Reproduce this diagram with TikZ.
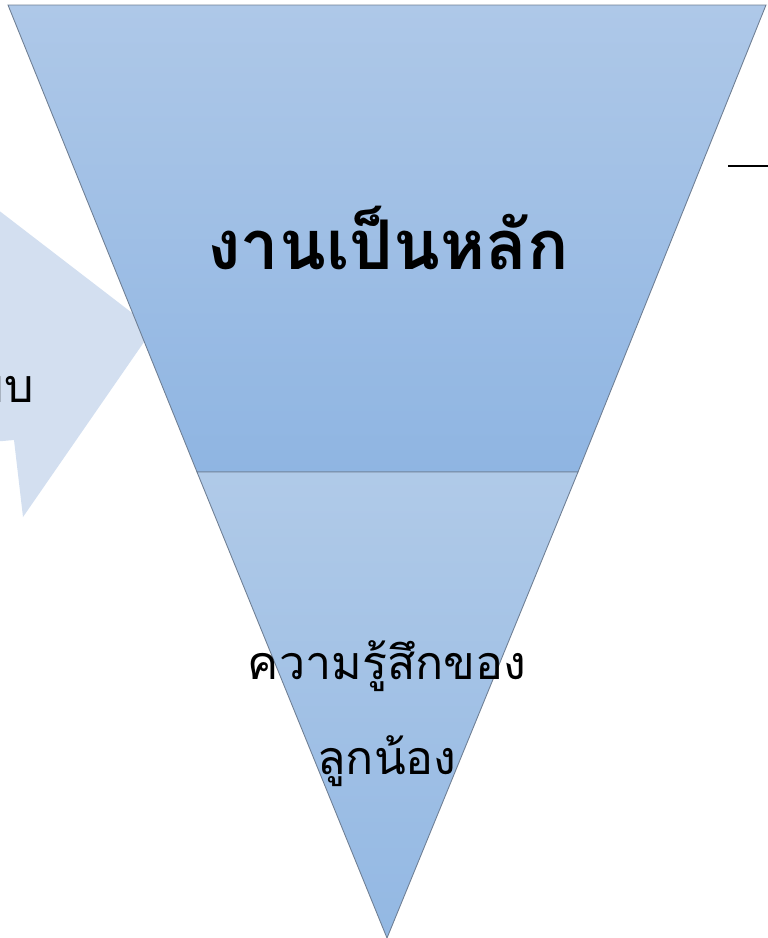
\documentclass[tikz,border=0pt]{standalone}
\usepackage{fontspec}
\newfontfamily\thaifont[Script=Thai]{Loma}
\usetikzlibrary{positioning}
\definecolor{edgegray}{HTML}{6F7F94}
\definecolor{toplight}{HTML}{AEC8E8}
\definecolor{topdark}{HTML}{8FB5E2}
\definecolor{lowlight}{HTML}{B0CAE8}
\definecolor{lowdark}{HTML}{93B8E3}
\definecolor{arrowblue}{HTML}{D3DFF0}
\tikzset{
  layer/.style={draw=edgegray, line width=0.5pt},
  thaibig/.style={font=\thaifont\bfseries\fontsize{39}{46}\selectfont},
  thaitext/.style={font=\thaifont\fontsize{26.5}{54}\selectfont, align=center},
}
\begin{document}
\begin{tikzpicture}[x=0.02cm,y=-0.02cm]
\useasboundingbox (0,0) rectangle (768,938);
\clip (0,0) rectangle (768,938);
% arrow coming in from the left
\fill[arrowblue] (-20,196) -- (153,329) -- (23,517) -- (14,440) -- (-20,443) -- cycle;
\node[thaitext, anchor=east] (leftword) at (40,390) {ระบบ};
% top layer
\shade[layer, top color=toplight, bottom color=topdark]
  (8,5) -- (766,5) -- (578,472) -- (197,472) -- cycle;
% bottom layer
\shade[layer, top color=lowlight, bottom color=lowdark]
  (197,472) -- (578,472) -- (387,938) -- cycle;
\node[thaibig] (work) at (388,238) {งานเป็นหลัก};
\node[thaitext] (feel) at (387,714) {ความรู้สึกของ\\ลูกน้อง};
% short line at the right
\draw[line width=1.2pt] (728,166) -- (768,166);
\end{tikzpicture}
\end{document}
